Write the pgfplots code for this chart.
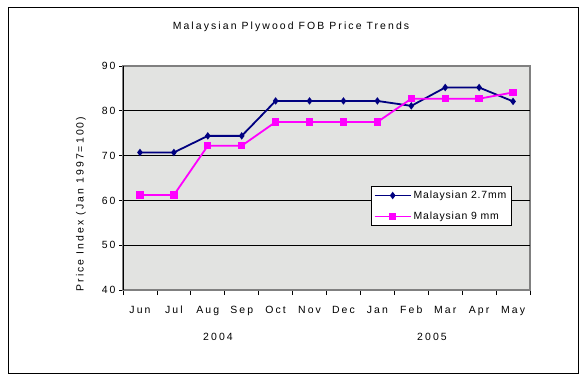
\documentclass[border=0pt]{standalone}
\usepackage{fontspec}
\setmainfont{Liberation Sans}[LetterSpace=20]
\newfontfamily\legfont{Liberation Sans}[LetterSpace=8]
\usepackage{pgfplots}
\pgfplotsset{compat=1.18}
\definecolor{navyc}{RGB}{0,0,128}
\definecolor{magc}{RGB}{255,0,255}
\definecolor{bgc}{RGB}{226,227,225}
\definecolor{frc}{RGB}{128,128,128}
\begin{document}
\begin{tikzpicture}[x=1bp,y=1bp]
\path (0,0) rectangle (584,382);
\draw[line width=1bp] (8,9) rectangle (578,374);
\node[font=\fontsize{10.5}{12}\selectfont] at (291,355) {Malaysian Plywood FOB Price Trends};
\node[font=\fontsize{10.5}{12}\selectfont, rotate=90] at (81,178) {Price Index (Jan 1997=100)};
\node[font=\fontsize{10.5}{12}\selectfont] at (218,45) {2004};
\node[font=\fontsize{10.5}{12}\selectfont] at (432,45) {2005};
\begin{axis}[at={(123bp,92bp)}, anchor=south west, scale only axis,
  width=407bp, height=224bp,
  xmin=-0.5, xmax=11.5, ymin=40, ymax=90,
  axis background/.style={fill=bgc},
  axis line style={draw=frc, line width=1.6bp},
  tick align=outside, tick style={black, line width=0.8bp},
  xtick pos=bottom, ytick pos=left,
  ytick={40,50,...,90}, major tick length=4bp, minor tick length=5bp,
  xtick={0,...,11},
  xticklabels={Jun,Jul,Aug,Sep,Oct,Nov,Dec,Jan,Feb,Mar,Apr,May},
  major x tick style={draw=none},
  minor xtick={-0.5,0.5,...,11.5},
  xticklabel style={yshift=-8bp, text height=8bp, text depth=2bp},
  ticklabel style={font=\fontsize{10.5}{12}\selectfont},
  /pgf/number format/assume math mode=true,
  legend style={at={(0.609,0.464)}, anchor=north west, draw=black, line width=0.8bp, fill=white,
    font=\legfont\fontsize{10.5}{12}\selectfont, row sep=8bp, inner sep=2.5bp},
  legend cell align=left,
  legend image code/.code={\draw[mark repeat=2,mark phase=2,#1] plot coordinates {(0bp,0bp)(18bp,0bp)(36bp,0bp)};},
]
\pgfplotsinvokeforeach{50,60,70,80}{\draw[black, line width=0.8bp] (axis cs:-0.5,#1) -- (axis cs:11.5,#1);}
\addplot[navyc, line width=1.8bp, mark=diamond*, mark size=2.3bp, mark options={solid}] coordinates {
(0,70.7)(1,70.7)(2,74.4)(3,74.4)(4,82.2)(5,82.2)(6,82.2)(7,82.2)(8,81.1)(9,85.2)(10,85.2)(11,82.1)};
\addlegendentry{Malaysian 2.7mm}
\addplot[magc, line width=1.8bp, mark=square*, mark size=2.8bp] coordinates {
(0,61.2)(1,61.2)(2,72.2)(3,72.2)(4,77.5)(5,77.5)(6,77.5)(7,77.5)(8,82.7)(9,82.7)(10,82.7)(11,84.1)};
\addlegendentry{Malaysian 9 mm}
\draw[black, line width=1.2bp] (rel axis cs:0,0) -- (rel axis cs:0,1);
\end{axis}
\end{tikzpicture}
\end{document}
